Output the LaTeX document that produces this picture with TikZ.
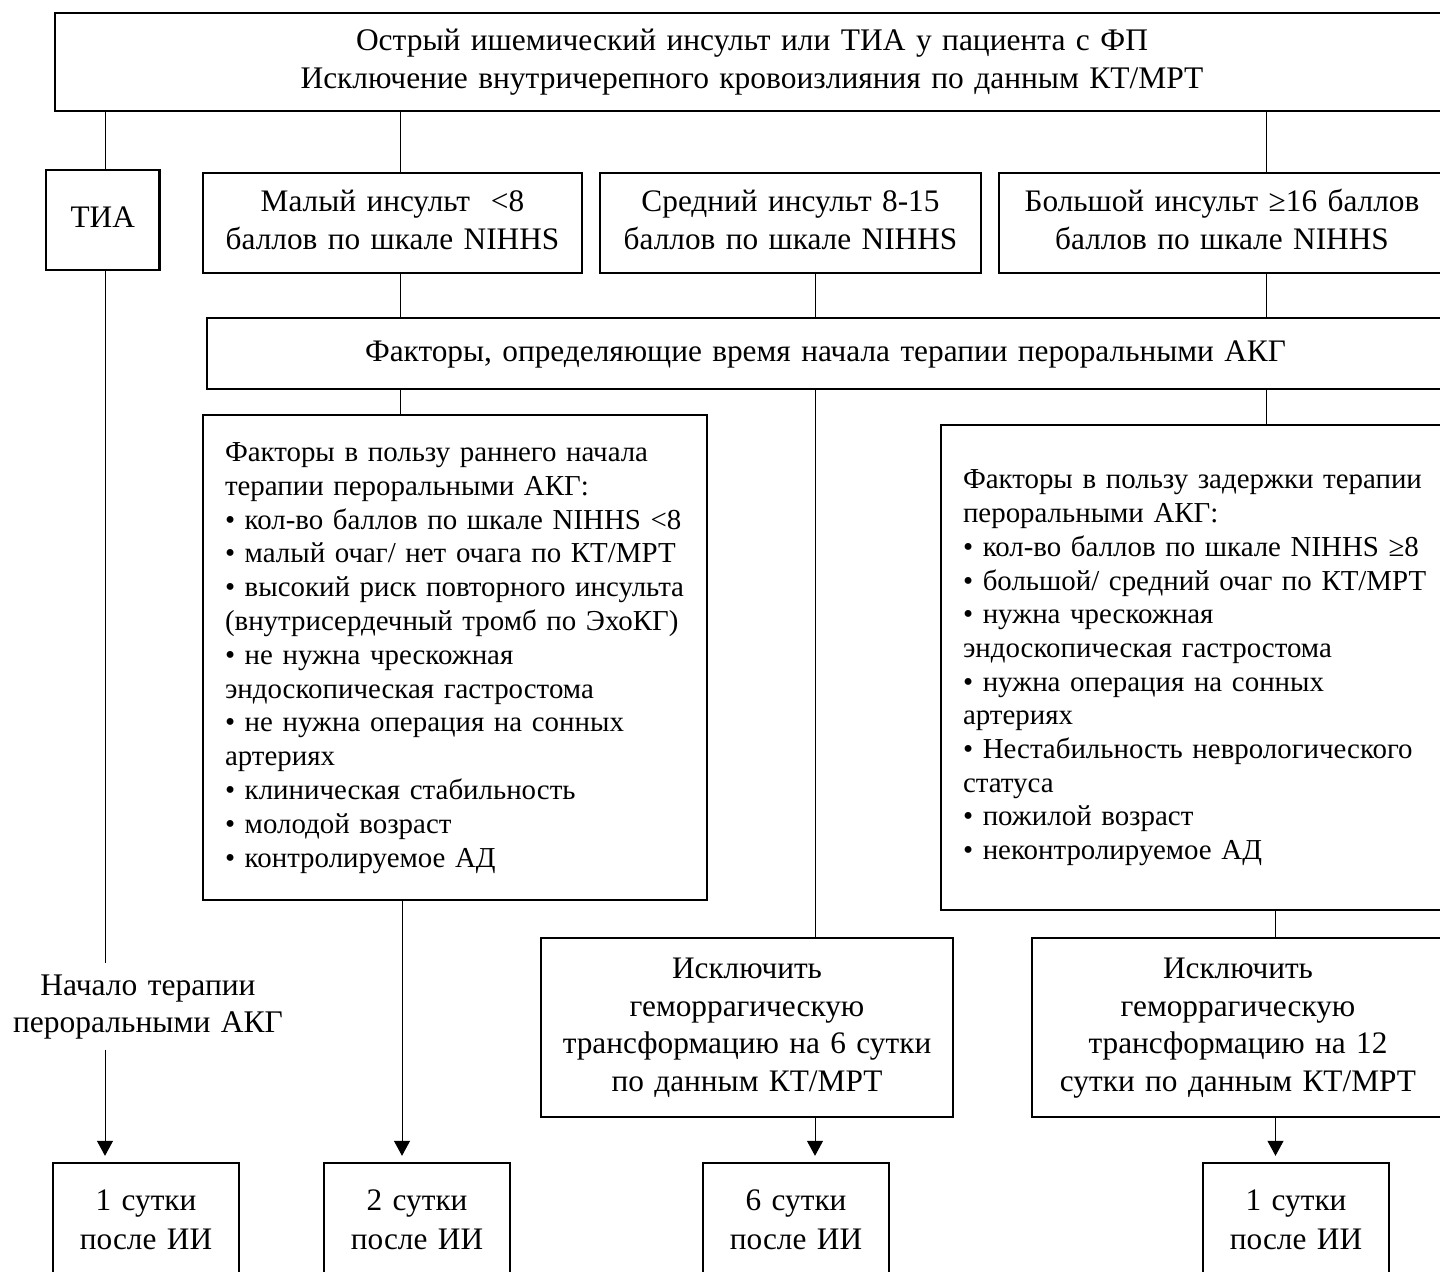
\documentclass[tikz,border=0pt]{standalone}
\usepackage{fontspec}
\setmainfont{Liberation Serif}
\usetikzlibrary{arrows.meta}

\newcommand{\fsz}[2]{\fontsize{#1}{#2}\selectfont}
\newcommand{\myline}[1]{\mbox{#1}\\}
\tikzset{
  box/.style={draw, line width=1.2pt, inner sep=0pt, align=center},
  lbox/.style={draw, line width=1.2pt, inner xsep=11pt, inner ysep=0pt, align=left},
  conn/.style={line width=0.5pt},
  arr/.style={line width=0.5pt, -{Triangle[width=8pt,length=7.5pt]}, shorten >=3pt},
}

\begin{document}
\begin{tikzpicture}[x=0.5pt,y=-0.5pt]
\useasboundingbox (0,0) rectangle (1440,1271);
\fill[white] (0,0) rectangle (1440,1271);

% row 1
\node[box, minimum width=697pt, minimum height=49pt, text width=680pt, font=\fsz{15.72pt}{19.25pt}] (top) at (752,62)
  {\strut Острый ишемический инсульт или ТИА у пациента с ФП\\Исключение внутричерепного кровоизлияния по данным КТ/МРТ\strut};

% row 2
\node[box, minimum width=56.75pt, minimum height=50pt, text width=50pt, font=\fsz{15.65pt}{19pt}] (tia) at (102.75,220) {\strut ТИА\strut};
\node[box, minimum width=189.5pt, minimum height=50pt, text width=185pt, font=\fsz{15.65pt}{19pt}] (mal) at (392.5,223)
  {\strut Малый инсульт~ <8\\баллов по шкале NIHHS\strut};
\node[box, minimum width=190.5pt, minimum height=50pt, text width=185pt, font=\fsz{15.65pt}{19pt}] (sred) at (790.5,223)
  {\strut Средний инсульт 8-15\\баллов по шкале NIHHS\strut};
\node[box, minimum width=223pt, minimum height=50pt, text width=215pt, font=\fsz{15.65pt}{19pt}] (bol) at (1222,223)
  {\strut Большой инсульт ≥16 баллов\\баллов по шкале NIHHS\strut};

% row 3
\node[box, minimum width=618.5pt, minimum height=35.5pt, text width=600pt, font=\fsz{15.65pt}{19pt}] (fak) at (825.5,353.5)
  {\strut Факторы, определяющие время начала терапии пероральными АКГ\strut};

% row 4
\node[lbox, minimum height=242.5pt, text width=230pt, font=\fsz{14.45pt}{16.9pt}] (lf) at (455,657.5)
  {\strut\myline{Факторы в пользу раннего начала}
   \myline{терапии пероральными АКГ:}
   \myline{• кол-во баллов по шкале NIHHS <8}
   \myline{• малый очаг/ нет очага по КТ/МРТ}
   \myline{• высокий риск повторного инсульта}
   \myline{(внутрисердечный тромб по ЭхоКГ)}
   \myline{• не нужна чрескожная}
   \myline{эндоскопическая гастростома}
   \myline{• не нужна операция на сонных}
   \myline{артериях}
   \myline{• клиническая стабильность}
   \myline{• молодой возраст}
   • контролируемое АД\strut};
\node[lbox, minimum height=242.5pt, text width=235pt, font=\fsz{14.45pt}{16.85pt}] (rf) at (1198,667.5)
  {\strut\myline{Факторы в пользу задержки терапии}
   \myline{пероральными АКГ:}
   \myline{• кол-во баллов по шкале NIHHS ≥8}
   \myline{• большой/ средний очаг по КТ/МРТ}
   \myline{• нужна чрескожная}
   \myline{эндоскопическая гастростома}
   \myline{• нужна операция на сонных}
   \myline{артериях}
   \myline{• Нестабильность неврологического}
   \myline{статуса}
   \myline{• пожилой возраст}
   • неконтролируемое АД\strut};

% row 5
\node[inner sep=0pt, align=center, minimum height=43pt, text width=150pt, font=\fsz{15.75pt}{18.5pt}] (start) at (148,1006.5)
  {\strut Начало терапии\\пероральными АКГ\strut};
\node[box, minimum width=206pt, minimum height=89.5pt, text width=200pt, font=\fsz{15.65pt}{18.75pt}] (ex6) at (747,1027.5)
  {\strut Исключить\\геморрагическую\\трансформацию на 6 сутки\\по данным КТ/МРТ\strut};
\node[box, minimum width=206pt, minimum height=89.5pt, text width=200pt, font=\fsz{15.65pt}{18.75pt}] (ex12) at (1238,1027.5)
  {\strut Исключить\\геморрагическую\\трансформацию на 12\\сутки по данным КТ/МРТ\strut};

% row 6
\node[box, minimum width=93pt, minimum height=59.5pt, text width=88pt, font=\fsz{15.65pt}{19.5pt}] (b1) at (146,1222.5) {\strut 1 сутки\\после ИИ\strut};
\node[box, minimum width=93pt, minimum height=59.5pt, text width=88pt, font=\fsz{15.65pt}{19.5pt}] (b2) at (417,1222.5) {\strut 2 сутки\\после ИИ\strut};
\node[box, minimum width=93pt, minimum height=59.5pt, text width=88pt, font=\fsz{15.65pt}{19.5pt}] (b3) at (796,1222.5) {\strut 6 сутки\\после ИИ\strut};
\node[box, minimum width=93pt, minimum height=59.5pt, text width=88pt, font=\fsz{15.65pt}{19.5pt}] (b4) at (1296,1222.5) {\strut 1 сутки\\после ИИ\strut};

% connector x positions
\coordinate (xa) at (105,0);
\coordinate (xb) at (400,0);
\coordinate (xb2) at (402,0);
\coordinate (xc) at (815,0);
\coordinate (xd) at (1266,0);
\coordinate (xe) at (1275.5,0);

\draw[conn] (top.south -| xa) -- (tia.north -| xa);
\draw[conn] (top.south -| xb) -- (mal.north -| xb);
\draw[conn] (top.south -| xd) -- (bol.north -| xd);
\draw[conn] (mal.south -| xb) -- (fak.north -| xb);
\draw[conn] (sred.south -| xc) -- (fak.north -| xc);
\draw[conn] (bol.south -| xd) -- (fak.north -| xd);
\draw[conn] (fak.south -| xb) -- (lf.north -| xb);
\draw[conn] (fak.south -| xc) -- (ex6.north -| xc);
\draw[conn] (fak.south -| xd) -- (rf.north -| xd);
\draw[conn] (rf.south -| xe) -- (ex12.north -| xe);
\draw[conn] (tia.south -| xa) -- (start.north -| xa);
\draw[arr] (start.south -| xa) -- (b1.north -| xa);
\draw[arr] (lf.south -| xb2) -- (b2.north -| xb2);
\draw[arr] (ex6.south -| xc) -- (b3.north -| xc);
\draw[arr] (ex12.south -| xe) -- (b4.north -| xe);
\end{tikzpicture}
\end{document}
